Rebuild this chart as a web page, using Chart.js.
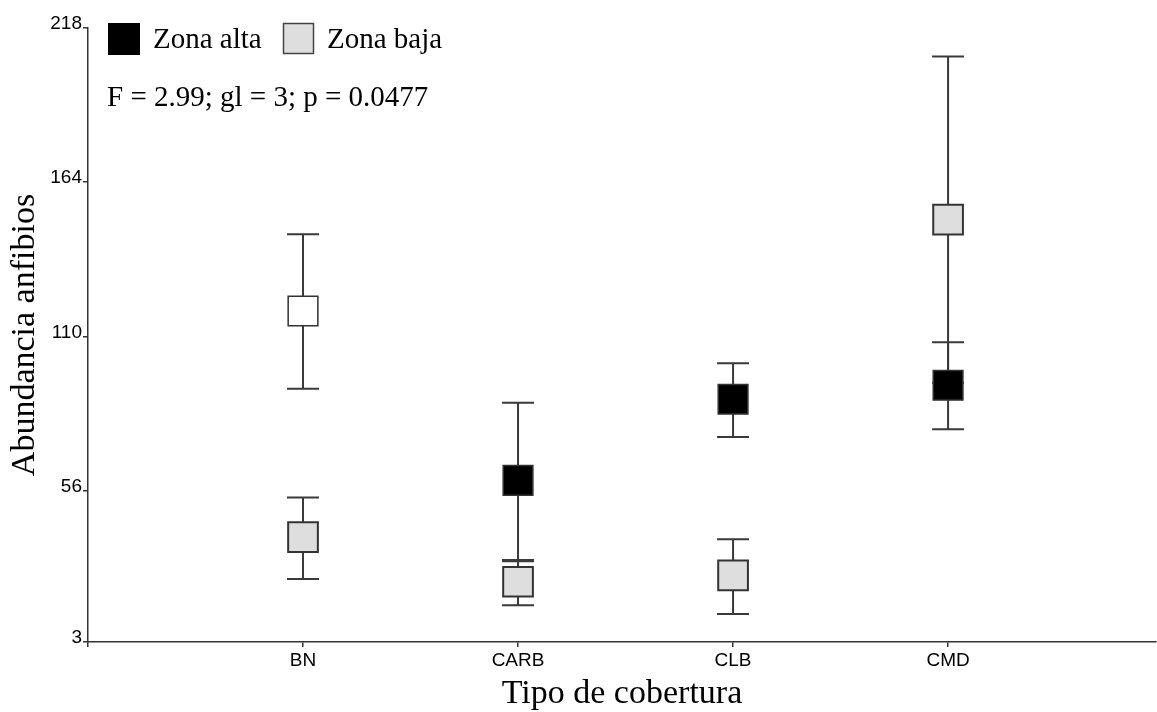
<!DOCTYPE html>
<html>
<head>
<meta charset="utf-8">
<script src="https://cdn.jsdelivr.net/npm/chart.js@4/dist/chart.umd.min.js"></script>
<style>
html,body{margin:0;padding:0;background:#fff;}
#wrap{width:1157px;height:712px;position:relative;}
</style>
</head>
<body>
<div id="wrap"><canvas id="c" width="1157" height="712"></canvas></div>
<script>
const categories = ['BN', 'CARB', 'CLB', 'CMD'];
const yTickValues = [3, 56, 110, 164, 218];
const altaMean = [118.9, 59.6, 88.0, 92.9];
const altaLow  = [91.7, 31.7, 74.8, 77.5];
const altaHigh = [145.8, 86.8, 100.6, 108.0];
const bajaMean = [39.7, 24.1, 26.3, 150.9];
const bajaLow  = [25.1, 15.9, 12.8, 93.8];
const bajaHigh = [53.6, 31.3, 39.0, 208.0];
const seriesNames = ['Zona alta', 'Zona baja'];
const statText = 'F = 2.99; gl = 3; p = 0.0477';

const SERIF = '"Liberation Serif", "Times New Roman", serif';
const SANS = '"Liberation Sans", Arial, sans-serif';
const X_MAX = 4.967;

const errorBars = {
  id: 'errorBars',
  beforeDatasetsDraw(chart) {
    const {ctx, scales: {x, y}} = chart;
    ctx.save();
    ctx.strokeStyle = '#3a3a3a';
    ctx.lineWidth = 2;
    const groups = [[bajaLow, bajaHigh], [altaLow, altaHigh]];
    groups.forEach(([lo, hi]) => {
      categories.forEach((c, i) => {
        const px = x.getPixelForValue(i + 1);
        const yl = y.getPixelForValue(lo[i]);
        const yh = y.getPixelForValue(hi[i]);
        ctx.beginPath();
        ctx.moveTo(px, yl); ctx.lineTo(px, yh);
        ctx.moveTo(px - 16, yl); ctx.lineTo(px + 16, yl);
        ctx.moveTo(px - 16, yh); ctx.lineTo(px + 16, yh);
        ctx.stroke();
      });
    });
    ctx.restore();
  }
};

const annotations = {
  id: 'annotations',
  afterDraw(chart) {
    const ctx = chart.ctx;
    ctx.save();
    ctx.font = '29px ' + SERIF;
    ctx.textBaseline = 'alphabetic';
    ctx.fillStyle = '#000';
    ctx.fillRect(108, 23, 32, 32);
    ctx.fillText(seriesNames[0], 153, 48);
    ctx.fillStyle = '#dedede';
    ctx.fillRect(283, 23, 31, 31);
    ctx.strokeStyle = '#444';
    ctx.lineWidth = 1.5;
    ctx.strokeRect(283.5, 23.5, 30, 30);
    ctx.fillStyle = '#000';
    ctx.fillText(seriesNames[1], 327, 48);
    ctx.fillText(statText, 107, 106);
    ctx.restore();
  }
};

new Chart(document.getElementById('c'), {
  type: 'scatter',
  data: {
    datasets: [
      {
        label: seriesNames[0],
        data: altaMean.map((v, i) => ({x: i + 1, y: v})),
        pointStyle: 'rect',
        pointRadius: 21,
        pointHoverRadius: 21,
        backgroundColor: (ctx) => ctx.dataIndex === 0 ? '#ffffff' : '#000000',
        borderColor: '#333',
        borderWidth: 1.5
      },
      {
        label: seriesNames[1],
        data: bajaMean.map((v, i) => ({x: i + 1, y: v})),
        pointStyle: 'rect',
        pointRadius: 21,
        pointHoverRadius: 21,
        backgroundColor: '#dedede',
        borderColor: '#333',
        borderWidth: 2
      }
    ]
  },
  options: {
    responsive: false,
    animation: false,
    events: [],
    layout: {autoPadding: false, padding: {top: 28, right: 1, left: 0, bottom: 0}},
    plugins: {legend: {display: false}, title: {display: false}, tooltip: {enabled: false}},
    scales: {
      x: {
        type: 'linear',
        min: 0,
        max: X_MAX,
        afterBuildTicks: (s) => { s.ticks = [0, 1, 2, 3, 4].map(v => ({value: v})); },
        afterFit: (s) => { s.height = 70; s.paddingLeft = 0; s.paddingRight = 0; },
        ticks: {
          callback: (v) => categories[v - 1] || '',
          font: {family: SANS, size: 19},
          color: '#000',
          padding: 2,
          maxRotation: 0,
          autoSkip: false
        },
        grid: {display: true, drawOnChartArea: false, drawTicks: true, tickLength: 5, lineWidth: 1.5, color: '#333'},
        border: {display: true, color: '#333', width: 1.5},
        title: {
          display: true,
          text: 'Tipo de cobertura',
          font: {family: SERIF, size: 34, lineHeight: 1},
          color: '#000',
          padding: {top: 1, bottom: 1}
        }
      },
      y: {
        type: 'linear',
        min: 3,
        max: 218,
        afterBuildTicks: (s) => { s.ticks = yTickValues.map(v => ({value: v})); },
        afterFit: (s) => { s.width = 88; },
        ticks: {
          font: {family: SANS, size: 19},
          color: '#000',
          padding: 1,
          labelOffset: -4
        },
        grid: {display: true, drawOnChartArea: false, drawTicks: true, tickLength: 5, color: '#333', lineWidth: 1.5},
        border: {display: true, color: '#333', width: 1.5},
        title: {
          display: true,
          text: 'Abundancia anfibios',
          font: {family: SERIF, size: 34, lineHeight: 1},
          color: '#000',
          padding: {top: 8, bottom: 8}
        }
      }
    }
  },
  plugins: [errorBars, annotations]
});
</script>
</body>
</html>
